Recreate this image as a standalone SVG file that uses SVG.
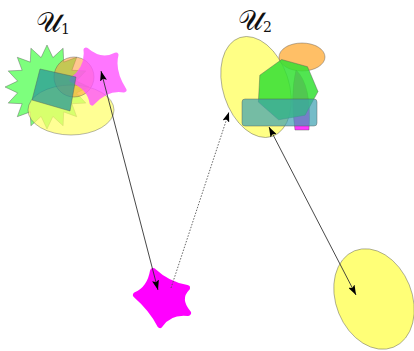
<svg xmlns="http://www.w3.org/2000/svg" width="414" height="351" viewBox="0 0 414 351">
<style>
.sh{stroke:#555;stroke-width:0.6;stroke-opacity:0.7}
.lbl{font-family:"DejaVu Serif","Liberation Serif",serif;fill:#111}
.ln{stroke:#333;stroke-width:0.9;fill:none}
.dot{stroke:#555;stroke-width:0.9;fill:none;stroke-dasharray:1.5,1.5}
</style>
<defs>
<marker id="ah" markerUnits="userSpaceOnUse" markerWidth="10" markerHeight="7" viewBox="0 0 10 7" refX="10" refY="3.5" orient="auto-start-reverse">
<path d="M0,0 L10,3.5 L0,7 L2,3.5 z" fill="#000"/>
</marker>
</defs>
<rect width="414" height="351" fill="#fff"/>
<g id="U1">
<text class="lbl" x="36" y="32" font-size="28">𝒰<tspan font-size="14" dy="2">1</tspan></text>
<polygon class="sh" fill="#66ff66" fill-opacity="0.85" points="89,87 76.4,92.9 85.8,103.1 71.9,103.7 76.7,116.7 63.7,111.9 63.1,125.8 52.9,116.4 47,129 41.1,116.4 30.9,125.8 30.3,111.9 17.3,116.7 22.1,103.7 8.2,103.1 17.6,92.9 5,87 17.6,81.1 8.2,70.9 22.1,70.3 17.3,57.3 30.3,62.1 30.9,48.2 41.1,57.6 47,45 52.9,57.6 63.1,48.2 63.7,62.1 76.7,57.3 71.9,70.3 85.8,70.9 76.4,81.1"/>
<ellipse class="sh" cx="71" cy="110" rx="43" ry="25" fill="#ffff66" fill-opacity="0.7"/>
<circle class="sh" cx="74" cy="77" r="20" fill="#ff9933" fill-opacity="0.55"/>
<g opacity="0.8">
<path fill="#ff55ff" stroke="#ff55ff" stroke-width="5" stroke-linejoin="round" d="M86,50 Q101,63 116,55 Q112,71 124,90 Q107,87 92,103 Q90,88 72,80 Q88,68 86,50 Z"/>
</g>
<polygon class="sh" fill="#2a9a9a" fill-opacity="0.75" points="40,69 76,77 70,111 32,100"/>
</g>
<g id="U2">
<text class="lbl" x="238" y="30" font-size="28">𝒰<tspan font-size="14" dy="2">2</tspan></text>
<ellipse class="sh" cx="256" cy="87" rx="33" ry="52" transform="rotate(-18 256 87)" fill="#ffff66" fill-opacity="0.8"/>
<ellipse class="sh" cx="302" cy="57" rx="23" ry="14" fill="#ffaa33" fill-opacity="0.75"/>
<path class="sh" fill="#ff22ff" fill-opacity="0.9" d="M296,70 Q312,85 309,130 L295,130 Q290,95 296,70 Z"/>
<polygon class="sh" fill="#33e033" fill-opacity="0.85" points="281.6,59.5 307.5,66.7 318,91.6 305.1,115.2 278.6,119.8 258.4,102.1 259.8,75.2"/>
<rect class="sh" x="242" y="99" width="75" height="27" rx="3" fill="#3a9fb0" fill-opacity="0.7"/>
</g>
<g id="star">
<path fill="#ff00ff" stroke="#ff00ff" stroke-width="6" stroke-linejoin="round" d="M153,271 Q168,285 187,288 Q176,299 188,313 Q169,311 160,325 Q152,309 136,295 Q150,289 153,271 Z"/>
</g>
<g id="ell">
<ellipse class="sh" cx="374" cy="299" rx="38" ry="52" transform="rotate(-22 374 299)" fill="#ffff77"/>
</g>
<g id="connectors">
<line class="ln" x1="101" y1="71" x2="158" y2="290" marker-start="url(#ah)" marker-end="url(#ah)"/>
<line class="dot" x1="171" y1="288" x2="229" y2="112" marker-end="url(#ah)"/>
<line class="ln" x1="269" y1="127" x2="356" y2="295" marker-start="url(#ah)" marker-end="url(#ah)"/>
</g>
</svg>
